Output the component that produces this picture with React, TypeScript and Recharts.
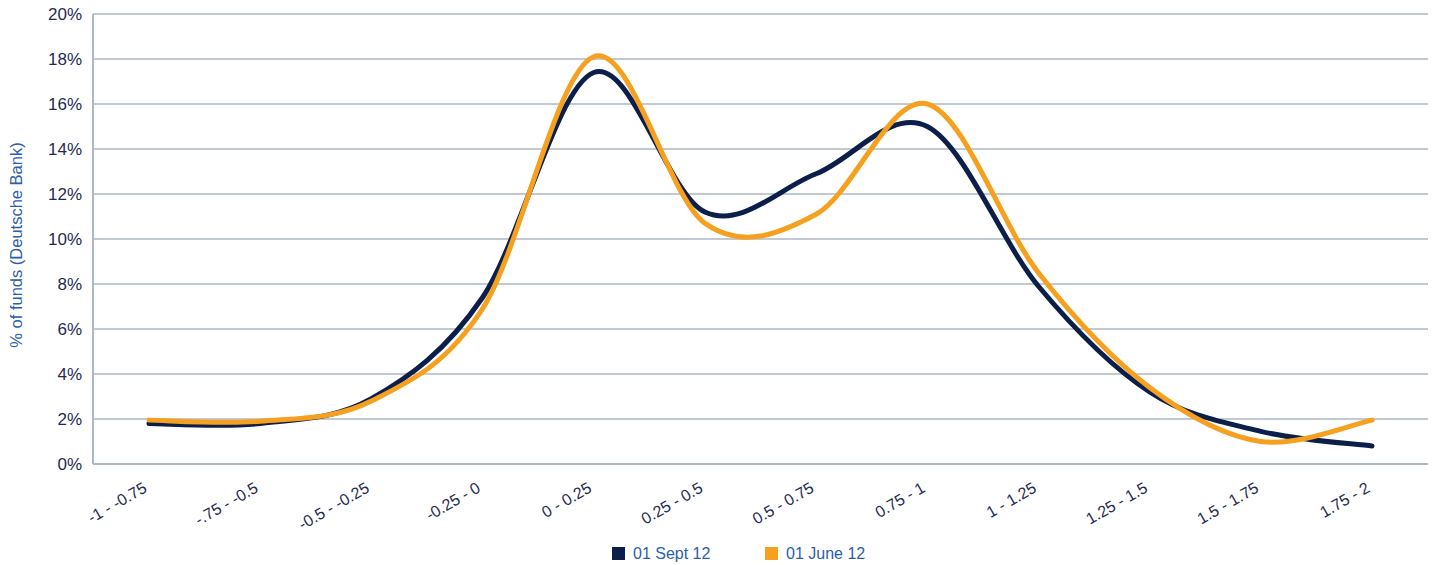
import React from "react";
import {
  LineChart,
  Line,
  XAxis,
  YAxis,
  CartesianGrid,
  Legend,
  Label,
} from "recharts";

// Return buckets and share of funds (%) in each bucket
const ranges = [
  "-1 - -0.75",
  "-.75 - -0.5",
  "-0.5 - -0.25",
  "-0.25 - 0",
  "0 - 0.25",
  "0.25 - 0.5",
  "0.5 - 0.75",
  "0.75 - 1",
  "1 - 1.25",
  "1.25 - 1.5",
  "1.5 - 1.75",
  "1.75 - 2",
];
const sept12 = [1.8, 1.8, 2.9, 7.4, 17.4, 11.2, 12.9, 15.0, 7.9, 3.2, 1.45, 0.8];
const june12 = [1.95, 1.9, 2.8, 6.9, 18.1, 10.7, 11.1, 16.0, 8.5, 3.4, 1.0, 1.95];
const yTicks = [0, 2, 4, 6, 8, 10, 12, 14, 16, 18, 20];

const data = ranges.map((range, i) => ({
  range,
  sept: sept12[i],
  june: june12[i],
}));

const NAVY = "#0c1f4b";
const ORANGE = "#f6a020";
const GRID = "#adb9c2";
const TICK = "#1f2b52";
const BLUE_TEXT = "#2d5ea8";
const FONT = "'Liberation Sans', Arial, sans-serif";

// smoothed line through every point (cubic bezier, catmull-rom tangents)
const smoothCurve = (context: any) => {
  let pts: number[][] = [];
  return {
    areaStart() {},
    areaEnd() {},
    lineStart() {
      pts = [];
    },
    point(x: number, y: number) {
      pts.push([+x, +y]);
    },
    lineEnd() {
      const n = pts.length;
      if (!n) return;
      context.moveTo(pts[0][0], pts[0][1]);
      for (let i = 0; i < n - 1; i++) {
        const p0 = pts[Math.max(i - 1, 0)];
        const p1 = pts[i];
        const p2 = pts[i + 1];
        const p3 = pts[Math.min(i + 2, n - 1)];
        context.bezierCurveTo(
          p1[0] + (p2[0] - p0[0]) / 6,
          p1[1] + (p2[1] - p0[1]) / 6,
          p2[0] - (p3[0] - p1[0]) / 6,
          p2[1] - (p3[1] - p1[1]) / 6,
          p2[0],
          p2[1]
        );
      }
    },
  };
};

const RangeTick = ({ x, y, payload }: any) => (
  <text
    x={x - 1}
    y={y + 19}
    transform={`rotate(-30, ${x - 1}, ${y + 19})`}
    textAnchor="end"
    fill={TICK}
    fontSize={16}
    fontFamily={FONT}
  >
    {payload.value}
  </text>
);

const LegendBlock = () => (
  <div style={{ position: "relative", height: 35, fontFamily: FONT }}>
    <div
      style={{
        position: "absolute",
        left: 612,
        top: 17,
        width: 13,
        height: 13,
        background: NAVY,
      }}
    />
    <span
      style={{
        position: "absolute",
        left: 633,
        top: 14,
        lineHeight: "20px",
        fontSize: 16,
        color: BLUE_TEXT,
        whiteSpace: "nowrap",
      }}
    >
      01 Sept 12
    </span>
    <div
      style={{
        position: "absolute",
        left: 765,
        top: 17,
        width: 13,
        height: 13,
        background: ORANGE,
      }}
    />
    <span
      style={{
        position: "absolute",
        left: 786,
        top: 14,
        lineHeight: "20px",
        fontSize: 16,
        color: BLUE_TEXT,
        whiteSpace: "nowrap",
      }}
    >
      01 June 12
    </span>
  </div>
);

export default function App() {
  return (
    <div style={{ position: "absolute", left: 0, top: 0, background: "#fff" }}>
      <LineChart
        width={1437}
        height={565}
        data={data}
        margin={{ top: 14, right: 9, left: 0, bottom: 0 }}
      >
        <CartesianGrid vertical={false} stroke={GRID} strokeWidth={1.5} />
        <XAxis
          dataKey="range"
          interval={0}
          height={66}
          padding={{ left: 56, right: 56 }}
          tickLine={false}
          axisLine={{ stroke: GRID, strokeWidth: 2 }}
          tick={<RangeTick />}
        />
        <YAxis
          width={93}
          domain={[0, 20]}
          ticks={yTicks}
          tickFormatter={(v: number) => `${v}%`}
          tickLine={false}
          tickMargin={5}
          axisLine={{ stroke: GRID, strokeWidth: 2 }}
          tick={{ fill: TICK, fontSize: 17, fontFamily: FONT }}
        >
          <Label
            content={({ viewBox }: any) => {
              const cy = viewBox.y + viewBox.height / 2 + 6;
              return (
                <text
                  x={22}
                  y={cy}
                  transform={`rotate(-90, 22, ${cy})`}
                  textAnchor="middle"
                  fill={BLUE_TEXT}
                  fontSize={16.5}
                  fontFamily={FONT}
                >
                  % of funds (Deutsche Bank)
                </text>
              );
            }}
          />
        </YAxis>
        <Legend verticalAlign="bottom" height={35} content={() => <LegendBlock />} />
        <Line
          dataKey="sept"
          name="01 Sept 12"
          type={smoothCurve as any}
          stroke={NAVY}
          strokeWidth={5}
          strokeLinecap="round"
          dot={false}
          isAnimationActive={false}
        />
        <Line
          dataKey="june"
          name="01 June 12"
          type={smoothCurve as any}
          stroke={ORANGE}
          strokeWidth={5}
          strokeLinecap="round"
          dot={false}
          isAnimationActive={false}
        />
      </LineChart>
    </div>
  );
}
